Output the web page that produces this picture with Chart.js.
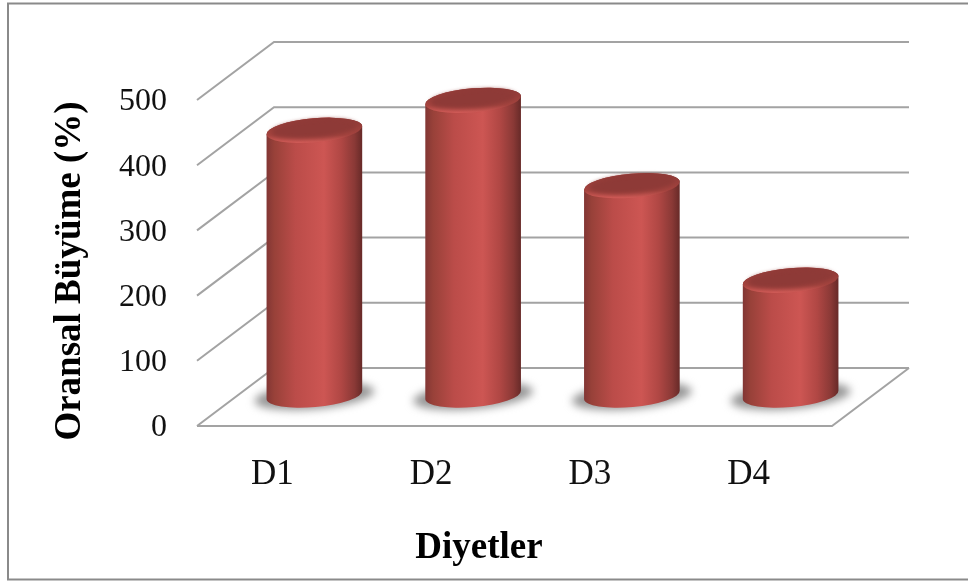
<!DOCTYPE html>
<html lang="tr">
<head>
<meta charset="utf-8">
<title>Oransal Büyüme</title>
<script src="https://cdn.jsdelivr.net/npm/chart.js@4/dist/chart.umd.min.js"></script>
<style>
    html, body { margin: 0; padding: 0; background: #fff; }
    canvas { display: block; }
</style>
</head>
<body>
<canvas id="growthChart" width="968" height="583"></canvas>
<script>
// Chart data
const categories = ['D1', 'D2', 'D3', 'D4'];
const growthValues = [406, 452, 321, 176];

const serif = "'Liberation Serif', 'Times New Roman', serif";
const lineColor = '#a3a3a3';

// Offset of the back wall from the front edge of the floor
const depthX = 77;
const depthY = 58;

// Cylinder shape and its position on the floor
const radiusX = 48;
const radiusY = 12;
const tilt = -5 * Math.PI / 180;
const floorX = 38;
const floorY = 31;

function line(ctx, x1, y1, x2, y2, x3, y3) {
    ctx.beginPath();
    ctx.moveTo(x1, y1);
    ctx.lineTo(x2, y2);
    if (x3 !== undefined) {
        ctx.lineTo(x3, y3);
    }
    ctx.stroke();
}

// Floor, side wall and back wall, taken from the value scale
const wallsPlugin = {
    id: 'walls',
    beforeDatasetsDraw(chart) {
        const ctx = chart.ctx;
        const { left, right } = chart.chartArea;
        const y = chart.scales.y;

        ctx.save();
        ctx.strokeStyle = lineColor;
        ctx.lineWidth = 2;
        y.ticks.forEach(tick => {
            const py = y.getPixelForValue(tick.value);
            line(ctx, left, py, left + depthX, py - depthY, right + depthX, py - depthY);
        });
        const zero = y.getPixelForValue(0);
        line(ctx, left, zero, right, zero, right + depthX, zero - depthY);
        ctx.restore();
    }
};

function drawCylinder(ctx, bar) {
    const cx = bar.x + floorX;
    const topY = bar.y - floorY;
    const baseY = bar.base - floorY;
    const dx = radiusX * Math.cos(tilt);
    const dy = radiusX * Math.sin(tilt);

    // Soft shadow on the floor
    ctx.save();
    ctx.filter = 'blur(4px)';
    ctx.fillStyle = '#969696';
    ctx.beginPath();
    ctx.ellipse(cx, baseY + 1, radiusX + 12, radiusY + 1, tilt, 0, Math.PI * 2);
    ctx.fill();
    ctx.restore();

    // Body
    const body = ctx.createLinearGradient(cx - dx, 0, cx + dx, 0);
    body.addColorStop(0, '#823634');
    body.addColorStop(0.08, '#984139');
    body.addColorStop(0.3, '#bb4c49');
    body.addColorStop(0.6, '#cd5653');
    body.addColorStop(0.78, '#b04744');
    body.addColorStop(0.92, '#8a3936');
    body.addColorStop(1, '#672a28');
    ctx.fillStyle = body;
    ctx.beginPath();
    ctx.moveTo(cx - dx, topY - dy);
    ctx.lineTo(cx - dx, baseY - dy);
    ctx.ellipse(cx, baseY, radiusX, radiusY, tilt, Math.PI, 0, true);
    ctx.lineTo(cx + dx, topY + dy);
    ctx.ellipse(cx, topY, radiusX, radiusY, tilt, 0, Math.PI, true);
    ctx.closePath();
    ctx.fill();

    // Bevelled top
    const rim = ctx.createLinearGradient(0, topY - radiusY, 0, topY + radiusY);
    rim.addColorStop(0, '#8e3a37');
    rim.addColorStop(0.7, '#a5443f');
    rim.addColorStop(1, '#cf5a56');
    ctx.fillStyle = rim;
    ctx.beginPath();
    ctx.ellipse(cx, topY, radiusX, radiusY, tilt, 0, Math.PI * 2);
    ctx.fill();

    ctx.save();
    ctx.filter = 'blur(2px)';
    ctx.fillStyle = '#8e3a37';
    ctx.beginPath();
    ctx.ellipse(cx, topY - 1.5, radiusX - 5, radiusY - 3, tilt, 0, Math.PI * 2);
    ctx.fill();
    ctx.restore();
}

const cylindersPlugin = {
    id: 'cylinders',
    beforeDatasetDraw(chart, args) {
        const ctx = chart.ctx;
        args.meta.data.forEach(bar => drawCylinder(ctx, bar));
        return false;
    }
};

// Outer frame (its right side runs off the canvas) and the two axis names
const framePlugin = {
    id: 'frame',
    beforeDraw(chart) {
        const ctx = chart.ctx;
        ctx.save();
        ctx.fillStyle = '#fff';
        ctx.fillRect(0, 0, chart.width, chart.height);
        ctx.strokeStyle = '#8a8a8a';
        ctx.lineWidth = 2;
        ctx.strokeRect(8, 3.5, 970, 576);
        ctx.restore();
    },
    afterDraw(chart) {
        const ctx = chart.ctx;
        ctx.save();
        ctx.fillStyle = '#000';
        ctx.font = "bold 37px " + serif;
        ctx.textAlign = 'center';
        ctx.textBaseline = 'middle';
        ctx.fillText('Diyetler', 479, 548);

        ctx.textBaseline = 'alphabetic';
        ctx.translate(80, 271);
        ctx.rotate(-Math.PI / 2);
        ctx.fillText('Oransal Büyüme (%)', 0, 0);
        ctx.restore();
    }
};

const growthChart = new Chart(document.getElementById('growthChart').getContext('2d'), {
    type: 'bar',
    data: {
        labels: categories,
        datasets: [{
            label: 'Oransal Büyüme (%)',
            data: growthValues,
            backgroundColor: '#c0504d'
        }]
    },
    plugins: [framePlugin, wallsPlugin, cylindersPlugin],
    options: {
        responsive: false,
        animation: false,
        layout: { padding: { top: 100, right: 136, bottom: 0, left: 0 } },
        plugins: {
            legend: { display: false },
            tooltip: { enabled: false }
        },
        scales: {
            x: {
                grid: { display: false, drawTicks: false },
                border: { display: false },
                afterFit(scale) { scale.height = 157; },
                ticks: {
                    color: '#111',
                    padding: 28,
                    labelOffset: -4,
                    maxRotation: 0,
                    font: { family: serif, size: 35 }
                }
            },
            y: {
                min: 0,
                max: 500,
                grid: { display: false, drawTicks: false },
                border: { display: false },
                afterFit(scale) { scale.width = 197; },
                ticks: {
                    stepSize: 100,
                    color: '#111',
                    padding: 30,
                    labelOffset: 2,
                    font: { family: serif, size: 32 }
                }
            }
        }
    }
});
</script>
</body>
</html>
